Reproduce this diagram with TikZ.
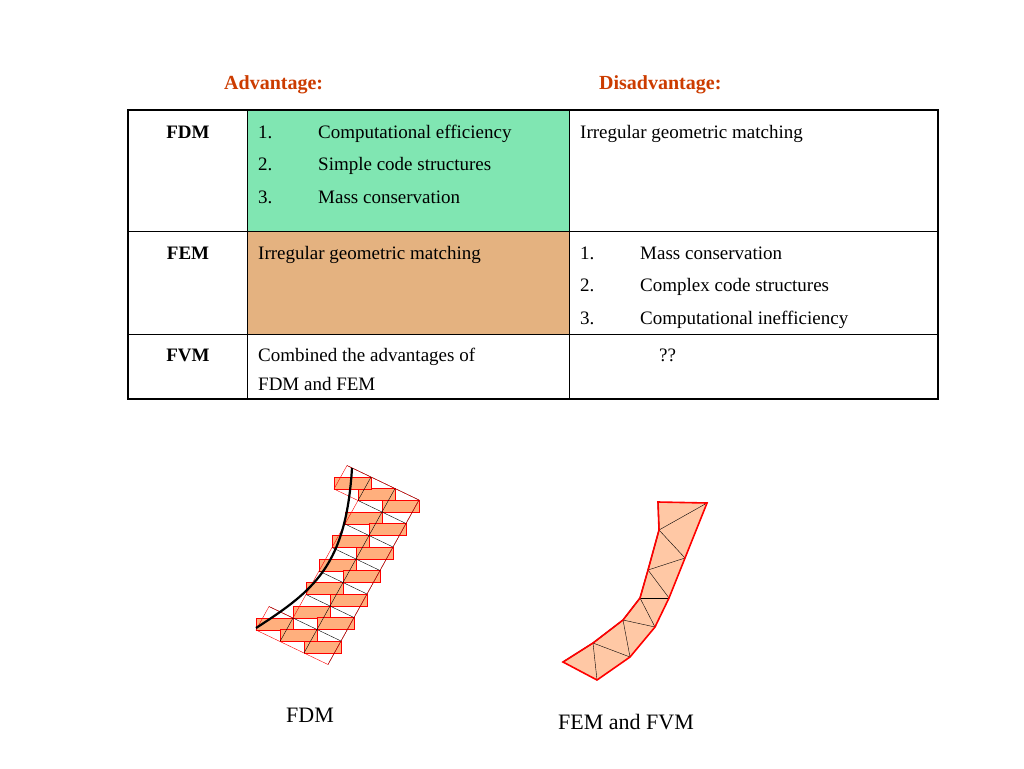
\documentclass[tikz,border=0pt]{standalone}
\usepackage{fontspec}
\setmainfont{Liberation Serif}
\usepackage{tikz}
\definecolor{headred}{RGB}{204,60,0}
\definecolor{fdmgreen}{RGB}{128,230,178}
\definecolor{femtan}{RGB}{228,178,128}
\definecolor{cellorange}{RGB}{255,175,125}
\definecolor{trifill}{RGB}{255,200,165}
\tikzset{
  txt/.style={anchor=base west, inner sep=0pt, font=\fontsize{19}{22}\selectfont},
  head/.style={anchor=base west, inner sep=0pt, font=\fontsize{20}{24}\selectfont\bfseries, text=headred},
  rowname/.style={anchor=base, inner sep=0pt, font=\fontsize{19}{22}\selectfont\bfseries},
  caption/.style={anchor=base, inner sep=0pt, font=\fontsize{22}{26}\selectfont},
  cell/.style={draw=red, fill=cellorange},
  mesh/.style={draw=black, thin},
}
\begin{document}
\begin{tikzpicture}[x=1pt,y=-1pt]
\useasboundingbox (0,0) rectangle (1024,768);
% headings
\node[head] (adv) at (224,89) {Advantage:};
\node[head] (dis) at (599,89) {Disadvantage:};
% table
\fill[fdmgreen] (247,110) rectangle (569,231);
\fill[femtan] (247,231) rectangle (569,334);
\draw (128,231) -- (938,231) (128,334) -- (938,334);
\draw (247,110) -- (247,399) (569,110) -- (569,399);
\draw[line width=1.6pt] (128,110) rectangle (938,399);
\node[rowname] (fdm) at (188,138) {FDM};
\node[rowname] (fem) at (188,259) {FEM};
\node[rowname] (fvm) at (188,361) {FVM};
\foreach \n/\t/\y in {1/Computational efficiency/138, 2/Simple code structures/170, 3/Mass conservation/203}{
  \node[txt] at (258,\y) {\n.};
  \node[txt] at (318,\y) {\t};
}
\node[txt] (irr1) at (580,138) {Irregular geometric matching};
\node[txt] (irr2) at (258,259) {Irregular geometric matching};
\foreach \n/\t/\y in {1/Mass conservation/259, 2/Complex code structures/291, 3/Computational inefficiency/324}{
  \node[txt] at (580,\y) {\n.};
  \node[txt] at (640,\y) {\t};
}
\node[txt] (comb) at (258,361) {Combined the advantages of};
\node[txt] (comb2) at (258,390) {FDM and FEM};
\node[txt] (qq) at (659,361) {??};
% FDM grid
\begin{scope}[shift={(256,630)}, x={(24pt,-11.5pt)}, y={(13pt,23.5pt)}]
  \foreach \i/\j in {0/0,1/0,2/0,1/1,2/1,1/2,2/2,1/3,2/3,1/4,2/4,1/5,2/5,1/6,2/6,0/6}
    \draw[cell] (\i,\j) rectangle ++(1,1);
  \foreach \i/\j in {0/0,1/0,2/0,1/1,2/1,1/2,2/2,1/3,2/3,1/4,2/4,1/5,2/5,1/6,2/6,0/6}{
    \draw[mesh] (\i+1,\j) -- (\i+1,\j+1);
    \draw[mesh] (\i,\j+1) -- (\i+1,\j+1);
  }
  \draw[red] (0,0) -- (3,0) -- (3,7) -- (0,7) -- (0,6) -- (1,6) -- (1,1) -- (0,1) -- cycle;
\end{scope}
\draw[line width=2.2pt] (256,628) .. controls (315,590) and (346,565) .. (352,468);
% FEM / FVM triangles
\coordinate (L0) at (563,662); \coordinate (L1) at (593,643);
\coordinate (L2) at (623,620); \coordinate (L3) at (640,598);
\coordinate (L4) at (648,570); \coordinate (L5) at (659,530);
\coordinate (L6) at (658,502);
\coordinate (R0) at (597,680); \coordinate (R1) at (630,657);
\coordinate (R2) at (655,627); \coordinate (R3) at (669,598);
\coordinate (R4) at (685,558); \coordinate (R5) at (707,503);
\fill[trifill] (L0) -- (L1) -- (L2) -- (L3) -- (L4) -- (L5) -- (L6) -- (R5) -- (R4) -- (R3) -- (R2) -- (R1) -- (R0) -- cycle;
\foreach \a/\b in {L1/R0,L1/R1,L2/R1,L2/R2,L3/R2,L3/R3,L4/R3,L4/R4,L5/R4,L5/R5}
  \draw[mesh] (\a) -- (\b);
\draw[line width=1pt] (L0) -- (L1) -- (L2) -- (L3) -- (L4) -- (L5) -- (L6);
\draw[red, line width=1.6pt] (L0) -- (L1) -- (L2) -- (L3) -- (L4) -- (L5) -- (L6) -- (R5) -- (R4) -- (R3) -- (R2) -- (R1) -- (R0) -- cycle;
% captions
\node[caption] (capfdm) at (310,722) {FDM};
\node[caption] (capfem) at (626,729) {FEM and FVM};
\end{tikzpicture}
\end{document}
